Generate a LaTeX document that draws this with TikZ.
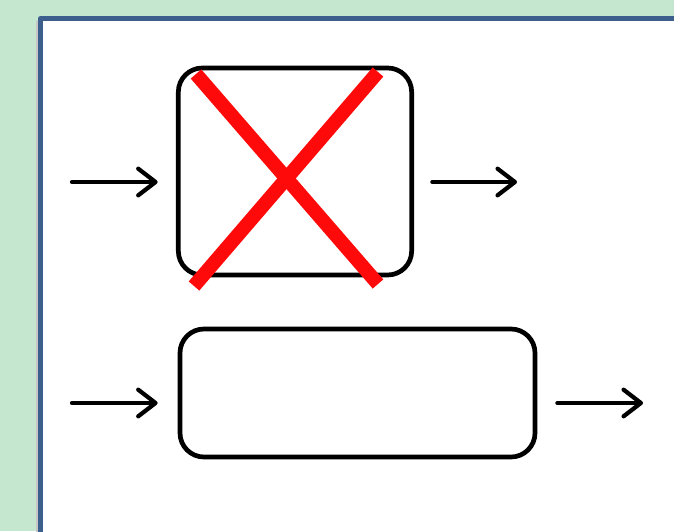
\documentclass[tikz,border=0pt]{standalone}
\usetikzlibrary{arrows.meta}
\definecolor{slidegreen}{HTML}{C5E7D0}
\definecolor{frameblue}{HTML}{3D5F8E}
\definecolor{crossred}{HTML}{FF0A0A}
\tikzset{
  stage/.style={draw=black, line width=4pt, rounded corners=0.72cm, fill=white},
  flow/.style={line width=3.6pt, -{Straight Barb[length=5.2mm, width=8mm, round]}},
}

\begin{document}
\begin{tikzpicture}[x=0.03cm, y=-0.03cm, line cap=round, line join=round]

  \useasboundingbox (0,0) rectangle (674,531);
  \clip (0,0) rectangle (674,531);

  % ============ slide background and panel ============
  \fill[slidegreen] (0,0) rectangle (674,531);
  \draw[black!22, line width=1pt] (37,21) -- (37,540);
  \draw[frameblue, fill=white, line width=4.4pt, line cap=butt] (40.5,18.5) rectangle (720,580);

  % ============ upper stage: blocked ============
  \node[stage, minimum width=7cm, minimum height=6.21cm] (blocked) at (295,171.5) {};

  \coordinate (in1) at (72,182);
  \coordinate (out1) at (517,182);
  \draw[flow, shorten >=0.55cm] (in1) -- (in1 -| blocked.west);
  \draw[flow, shorten <=0.55cm] (blocked.east |- out1) -- (out1);

  % the red cross over the stage
  \draw[crossred, line width=0.42cm, line cap=butt] (196,74) -- (378,284);
  \draw[crossred, line width=0.42cm, line cap=butt] (378,72) -- (194,286);

  % ============ lower stage: open ============
  \node[stage, minimum width=10.65cm, minimum height=3.84cm] (open) at (357.5,393) {};

  \coordinate (in2) at (72,403);
  \coordinate (out2) at (643,403);
  \draw[flow, shorten >=0.6cm] (in2) -- (in2 -| open.west);
  \draw[flow, shorten <=0.6cm] (open.east |- out2) -- (out2);

\end{tikzpicture}
\end{document}
